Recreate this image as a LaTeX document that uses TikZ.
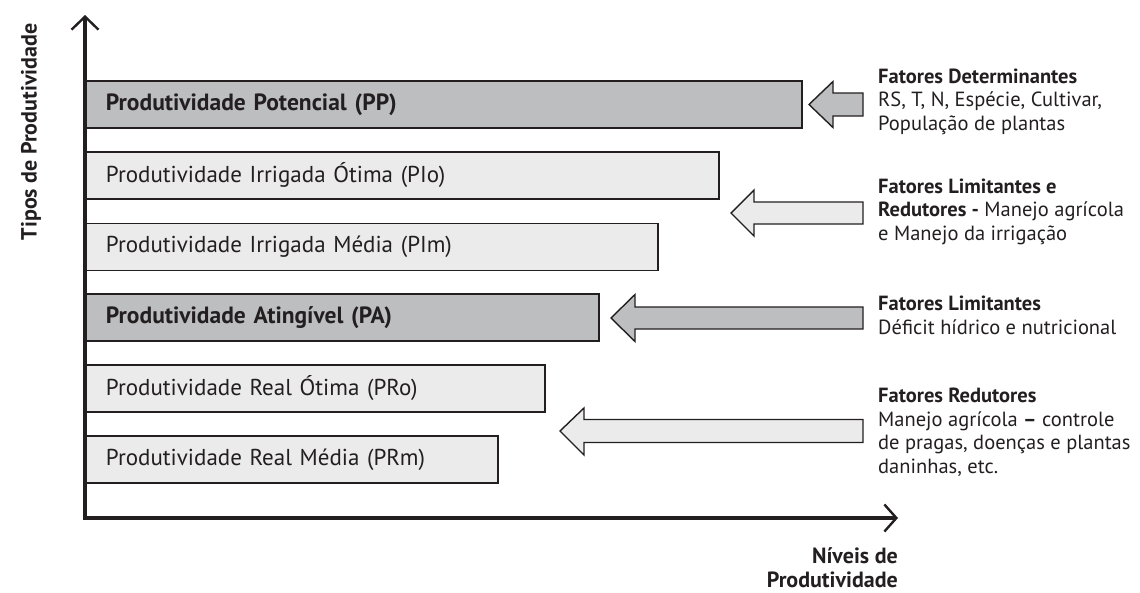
\documentclass[tikz,border=0pt]{standalone}
\usepackage{fontspec}
\setmainfont{PT Sans}[BoldFont={PT Sans Bold}]
\usetikzlibrary{arrows.meta}
\definecolor{dk}{HTML}{BDBEC0}
\definecolor{lt}{HTML}{EBEBEB}
\definecolor{ink}{HTML}{231F20}
\begin{document}
\begin{tikzpicture}[x=1pt,y=-1pt,
  bar/.style={draw=ink, line width=1.9pt, anchor=west, minimum height=47pt, inner xsep=20pt, inner ysep=0pt, align=left, font=\fontsize{23}{26}\selectfont, text=ink},
  darkbar/.style={bar, fill=dk, font=\fontsize{23.5}{26}\selectfont\bfseries},
  lightbar/.style={bar, fill=lt},
  blk/.style={draw=ink, line width=1.4pt, line join=miter},
  info/.style={anchor=base west, align=left, inner sep=0pt, font=\fontsize{20.5}{23.5}\selectfont, text=ink},
  axislab/.style={inner sep=0pt, font=\fontsize{22}{24}\selectfont\bfseries, text=ink},
  axis/.style={line width=3.2pt, draw=ink, line join=miter, {Straight Barb[length=13pt, width=27pt, line width=2.4pt]}-{Straight Barb[length=12pt, width=27pt, line width=2.4pt]}},
]
\useasboundingbox (0,0) rectangle (1140,592);

% bars
\node[darkbar, text width=676pt] (pp) at (85,104.5) {Produtividade Potencial (PP)};
\node[lightbar, text width=593pt] (pio) at (85,175.5) {Produtividade Irrigada Ótima (PIo)};
\node[lightbar, text width=532pt] (pim) at (85,247) {Produtividade Irrigada Média (PIm)};
\node[darkbar, text width=473pt] (pa) at (85,317.5) {Produtividade Atingível (PA)};
\node[lightbar, text width=419pt] (pro) at (85,388.5) {Produtividade Real Ótima (PRo)};
\node[lightbar, text width=372pt] (prm) at (85,459.5) {Produtividade Real Média (PRm)};

% axes
\coordinate (ytop) at (85,15);
\coordinate (orig) at (85,518);
\coordinate (xend) at (898,518);
\draw[axis] (ytop) -- (orig) -- (xend);

\node[axislab, rotate=90] (ylab) at (31,132) {Tipos de Produtividade};
\node[axislab, anchor=base east, align=right] (xlab) at (898,587) {Níveis de\\Produtividade};

% block arrows
\draw[blk, fill=dk] (809,104.5) -- (833,81.5) -- (833,93) -- (863,93) -- (863,116) -- (833,116) -- (833,127.5) -- cycle;
\draw[blk, fill=lt] (731,213) -- (754,190) -- (754,202) -- (863,202) -- (863,224) -- (754,224) -- (754,236) -- cycle;
\draw[blk, fill=dk] (611,318) -- (635,294.5) -- (635,307) -- (863,307) -- (863,329) -- (635,329) -- (635,341.5) -- cycle;
\draw[blk, fill=lt] (560,431) -- (584,408) -- (584,419.5) -- (863,419.5) -- (863,442.5) -- (584,442.5) -- (584,455) -- cycle;

% factor texts (base = baseline of last line)
\node[info] (f1) at (878,130) {\textbf{Fatores Determinantes}\\RS, T, N, Espécie, Cultivar,\\População de plantas};
\node[info] (f2) at (878,240) {\textbf{Fatores Limitantes e}\\\textbf{Redutores -} Manejo agrícola\\e Manejo da irrigação};
\node[info] (f3) at (878,334) {\textbf{Fatores Limitantes}\\Déficit hídrico e nutricional};
\node[info] (f4) at (878,473) {\textbf{Fatores Redutores}\\Manejo agrícola \textbf{–} controle\\de pragas, doenças e plantas\\daninhas, etc.};
\end{tikzpicture}
\end{document}
